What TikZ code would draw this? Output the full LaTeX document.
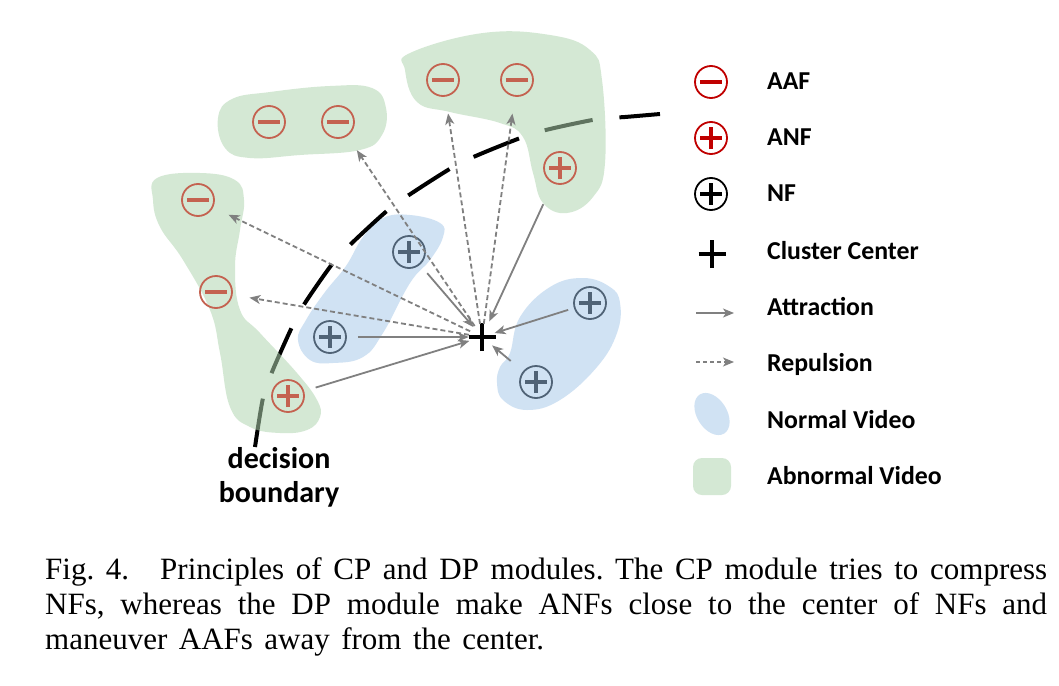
\documentclass[tikz,border=0pt]{standalone}
\usepackage{fontspec}
\setmainfont{Liberation Serif}
\newfontfamily\calib{Carlito}
\usetikzlibrary{arrows.meta}
\definecolor{gfill}{RGB}{177,214,177}
\definecolor{bfill}{RGB}{208,226,243}
\definecolor{symred}{RGB}{196,98,80}
\definecolor{symnf}{RGB}{80,99,118}
\definecolor{legred}{RGB}{192,0,0}
\definecolor{arrgray}{RGB}{128,128,128}
\begin{document}
\begin{tikzpicture}[x=1pt,y=-1pt,
  sym/.style={circle, minimum size=32pt, inner sep=0pt, line width=1.8pt},
  minus/.style={path picture={\draw[line width=3.5pt,#1] ([xshift=-11pt]path picture bounding box.center)--([xshift=11pt]path picture bounding box.center);}},
  plus/.style={path picture={\draw[line width=3.5pt,#1] ([xshift=-11pt]path picture bounding box.center)--([xshift=11pt]path picture bounding box.center) ([yshift=-11pt]path picture bounding box.center)--([yshift=11pt]path picture bounding box.center);}},
  aaf/.style={sym, draw=#1, minus=#1}, aaf/.default=symred,
  anf/.style={sym, draw=#1, plus=#1}, anf/.default=symred,
  nf/.style={sym, draw=#1, plus=#1}, nf/.default=symnf,
  ctr/.style={circle, minimum size=26pt, inner sep=0pt},
  att/.style={draw=arrgray, line width=1.8pt, -{Stealth[length=11pt,width=9pt,inset=3pt]}},
  rep/.style={att, dash pattern=on 5pt off 3pt},
  abn/.style={fill=gfill, fill opacity=0.54},
  nor/.style={fill=bfill},
  bnd/.style={line width=4pt, dash pattern=on 49pt off 27pt},
  legtext/.style={anchor=base west, font=\calib\bfseries\fontsize{25.8}{29}\selectfont, inner sep=0pt},
  dbtext/.style={anchor=base, font=\calib\bfseries\fontsize{30}{34}\selectfont, inner sep=0pt},
]
\useasboundingbox (0,0) rectangle (1059,685);
\fill[white] (0,0) rectangle (1059,685);

% normal video blobs
\fill[nor] plot[smooth cycle, tension=0.7] coordinates {(298,340) (310,360) (333,363) (363,357) (383,333) (410,283) (430,260) (443,237) (440,223) (410,215) (383,218) (363,237) (346,266) (325,292) (306,320)};
\fill[nor] plot[smooth cycle, tension=0.7] coordinates {(497,383) (503,400) (527,410) (560,400) (597,367) (617,333) (620,303) (610,287) (583,278) (550,287) (520,317) (510,353) (500,367)};

% decision boundary
\draw[bnd] plot[smooth, tension=0.5] coordinates {(255,447) (263,398) (272,372) (292,327) (305,303) (333,263) (353,242) (388,210) (412,193) (453,167) (478,155) (523,137) (550,129) (598,119) (625,117) (660,114)};

% abnormal video blobs
\fill[abn] plot[smooth cycle, tension=0.7] coordinates {(218,118) (232,99) (270,92) (330,86) (372,88) (386,108) (382,135) (360,150) (300,155) (250,158) (225,148)};
\fill[abn] plot[smooth cycle, tension=0.7] coordinates {(405,70) (410,53) (483,33) (550,35) (590,50) (602,80) (605,163) (593,197) (567,213) (543,203) (533,173) (523,137) (500,123) (450,112) (417,102)};
\fill[abn] plot[smooth cycle, tension=0.7] coordinates {(157,178) (200,173) (235,180) (244,200) (240,230) (235,267) (240,310) (260,333) (297,373) (317,400) (320,417) (307,430) (280,433) (250,427) (230,407) (220,353) (210,310) (183,260) (160,227) (153,200)};

% symbols
\node[ctr] (c) at (482,337) {};
\draw[line width=4.5pt] ([xshift=-13.5pt]c.center) -- ([xshift=13.5pt]c.center) ([yshift=-14pt]c.center) -- ([yshift=14pt]c.center);

\node[aaf] (a1) at (198,200) {};
\node[aaf] (a2) at (216,292) {};
\node[aaf] (a3) at (269,122) {};
\node[aaf] (a4) at (338,122) {};
\node[aaf] (a5) at (443,80) {};
\node[aaf] (a6) at (517,80) {};
\node[anf] (p1) at (288,396) {};
\node[anf] (p2) at (560,168) {};
\node[nf] (n1) at (409,252) {};
\node[nf] (n2) at (330,337) {};
\node[nf] (n3) at (590,303) {};
\node[nf] (n4) at (536,382) {};

% repulsion
\foreach \t in {a1,a2,a4,a5,a6}
  \draw[rep, shorten >=17pt] (c) -- (\t);
% attraction
\draw[att, shorten <=11pt] (n2) -- (c);
\draw[att, shorten <=12pt] (p1) -- (c);
\draw[att, shorten <=11pt] (n1) -- (c);
\draw[att, shorten <=6pt] (n3) -- (c);
\draw[att, shorten <=16pt] (n4) -- (c);
\draw[att, shorten <=23pt, shorten >=4pt] (p2) -- (c);

% decision boundary label
\node[dbtext] (db1) at (279,468) {decision};
\node[dbtext] (db2) at (279,502) {boundary};

% legend
\node[aaf=legred] (l1) at (711,82) {};
\node[anf=legred] (l2) at (711,138) {};
\node[nf=black] (l3) at (711,194) {};
\node[ctr] (l4) at (712,254) {};
\draw[line width=4.5pt] ([xshift=-13.5pt]l4.center) -- ([xshift=13.5pt]l4.center) ([yshift=-14pt]l4.center) -- ([yshift=14pt]l4.center);
\coordinate (la1) at (696,313);
\coordinate (la2) at (734,313);
\draw[att, line width=1.5pt] (la1) -- (la2);
\coordinate (lr1) at (696,362);
\coordinate (lr2) at (734,362);
\draw[rep, line width=1.5pt, dash pattern=on 4pt off 3pt] (lr1) -- (lr2);
\fill[nor, rotate around={-58:(712,414)}] (712,414) ellipse (23 and 15);
\fill[abn, rounded corners=9pt] (693,458) rectangle (731,495);

\node[legtext] (t1) at (767,89) {AAF};
\node[legtext] (t2) at (767,145) {ANF};
\node[legtext] (t3) at (767,201) {NF};
\node[legtext] (t4) at (767,259) {Cluster Center};
\node[legtext] (t5) at (767,315) {Attraction};
\node[legtext] (t6) at (767,371) {Repulsion};
\node[legtext] (t7) at (767,428) {Normal Video};
\node[legtext] (t8) at (767,484) {Abnormal Video};

% caption
\node[anchor=north west, inner sep=0pt, text width=1002pt, align=justify,
      font=\fontsize{31}{35}\selectfont] (cap) at (45,557)
  {\frenchspacing Fig. 4.\hspace{1em}Principles of CP and DP modules. The CP module tries to compress\linebreak NFs, whereas the DP module make ANFs close to the center of NFs and\linebreak\spaceskip=0.37em\relax maneuver AAFs away from the center.};
\end{tikzpicture}
\end{document}
